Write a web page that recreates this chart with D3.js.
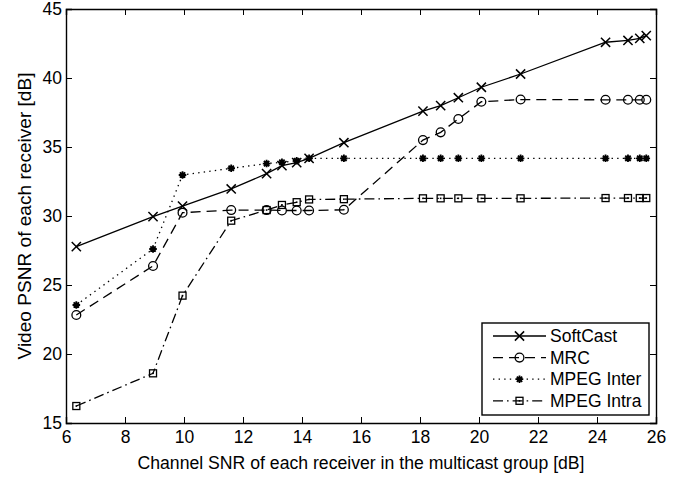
<!DOCTYPE html>
<html>
<head>
<meta charset="utf-8">
<script src="https://cdn.jsdelivr.net/npm/d3@7"></script>
<style>
  body { margin: 0; background: #fff; }
  svg { display: block; font-family: "Liberation Sans", Arial, sans-serif; }
</style>
</head>
<body>
<div id="chart"></div>
<script>
// receiver channel SNR (dB) -- same receivers for every scheme
var snr = [6.35, 8.95, 9.95, 11.6, 12.8, 13.32, 13.82, 14.24, 15.42, 18.1, 18.7, 19.3, 20.08, 21.41, 24.29, 25.05, 25.45, 25.67];

var softcast  = [27.78, 29.95, 30.72, 31.96, 33.07, 33.65, 33.87, 34.18, 35.31, 37.6, 38.0, 38.57, 39.33, 40.29, 42.59, 42.72, 42.87, 43.07];
var mrc       = [22.83, 26.38, 30.24, 30.43, 30.43, 30.4, 30.4, 30.4, 30.45, 35.5, 36.06, 37.03, 38.28, 38.44, 38.42, 38.42, 38.42, 38.42];
var mpegInter = [23.55, 27.61, 32.97, 33.46, 33.8, 33.89, 34.0, 34.18, 34.18, 34.18, 34.18, 34.18, 34.18, 34.18, 34.18, 34.18, 34.18, 34.18];
var mpegIntra = [16.23, 18.6, 24.23, 29.66, 30.43, 30.8, 31.0, 31.2, 31.22, 31.28, 31.28, 31.28, 31.28, 31.28, 31.3, 31.3, 31.3, 31.3];

var seriesNames = ["SoftCast", "MRC", "MPEG Inter", "MPEG Intra"];
var xTicks = [6, 8, 10, 12, 14, 16, 18, 20, 22, 24, 26];
var yTicks = [15, 20, 25, 30, 35, 40, 45];

var W = 689, H = 479;
var plotL = 66, plotR = 656, plotT = 9, plotB = 423;

var svg = d3.select('#chart').append('svg')
  .attr('width', W).attr('height', H);

var x = d3.scaleLinear().domain([6, 26]).range([plotL, plotR]);
var y = d3.scaleLinear().domain([15, 45]).range([plotB, plotT]);

// styles per series
var styles = [
  { dash: null,         marker: 'x' },
  { dash: '10,6',       marker: 'o' },
  { dash: '1.4,4.2',    marker: '*' },
  { dash: '10,4,1.6,4', marker: 's' }
];

var allSeries = [softcast, mrc, mpegInter, mpegIntra].map(function(vals, i) {
  return {
    name: seriesNames[i],
    style: styles[i],
    points: vals.map(function(v, j) { return { x: snr[j], y: v }; })
  };
});

function drawMarker(g, type, cx, cy) {
  if (type === 'x') {
    var s = 4.6;
    g.append('path')
      .attr('d', 'M' + (cx - s) + ',' + (cy - s) + 'L' + (cx + s) + ',' + (cy + s) +
                 'M' + (cx - s) + ',' + (cy + s) + 'L' + (cx + s) + ',' + (cy - s))
      .attr('stroke', '#000').attr('stroke-width', 1.5).attr('fill', 'none');
  } else if (type === 'o') {
    g.append('circle').attr('cx', cx).attr('cy', cy).attr('r', 4.4)
      .attr('stroke', '#000').attr('stroke-width', 1.3).attr('fill', 'none');
  } else if (type === '*') {
    var r = 3.8, p = '';
    for (var k = 0; k < 4; k++) {
      var a = k * Math.PI / 4;
      p += 'M' + (cx - r * Math.cos(a)) + ',' + (cy - r * Math.sin(a)) +
           'L' + (cx + r * Math.cos(a)) + ',' + (cy + r * Math.sin(a));
    }
    g.append('path').attr('d', p).attr('stroke', '#000').attr('stroke-width', 1.8).attr('fill', 'none');
    g.append('circle').attr('cx', cx).attr('cy', cy).attr('r', 2.5).attr('fill', '#000');
  } else if (type === 's') {
    var h = 3.5;
    g.append('rect').attr('x', cx - h).attr('y', cy - h).attr('width', 2 * h).attr('height', 2 * h)
      .attr('stroke', '#000').attr('stroke-width', 1.3).attr('fill', 'none');
    g.append('rect').attr('x', cx - 0.8).attr('y', cy - 0.8).attr('width', 1.6).attr('height', 1.6)
      .attr('fill', '#000');
  }
}

// axes box with inward ticks (matlab style)
var xAxisB = d3.axisBottom(x).tickValues(xTicks).tickSize(-6).tickPadding(8);
var xAxisT = d3.axisTop(x).tickValues(xTicks).tickSize(-6).tickFormat('');
var yAxisL = d3.axisLeft(y).tickValues(yTicks).tickSize(-6).tickPadding(4);
var yAxisR = d3.axisRight(y).tickValues(yTicks).tickSize(-6).tickFormat('');

function styleAxis(g) {
  g.select('.domain').attr('stroke', '#000').attr('stroke-width', 1.4);
  g.selectAll('.tick line').attr('stroke', '#000').attr('stroke-width', 1);
  g.selectAll('.tick text').attr('fill', '#000').style('font-size', '17.5px');
}

svg.append('g').attr('transform', 'translate(0,' + plotB + ')').call(xAxisB).call(styleAxis);
svg.append('g').attr('transform', 'translate(0,' + plotT + ')').call(xAxisT).call(styleAxis);
svg.append('g').attr('transform', 'translate(' + plotL + ',0)').call(yAxisL).call(styleAxis);
svg.append('g').attr('transform', 'translate(' + plotR + ',0)').call(yAxisR).call(styleAxis);

// lines + markers
var line = d3.line().x(function(d) { return x(d.x); }).y(function(d) { return y(d.y); });

allSeries.forEach(function(s) {
  var g = svg.append('g').attr('class', 'series');
  g.append('path').datum(s.points)
    .attr('d', line)
    .attr('fill', 'none').attr('stroke', '#000').attr('stroke-width', 1.3)
    .attr('stroke-dasharray', s.style.dash);
  s.points.forEach(function(p) { drawMarker(g, s.style.marker, x(p.x), y(p.y)); });
});

// axis titles
svg.append('text')
  .attr('x', (plotL + plotR) / 2).attr('y', 469)
  .attr('text-anchor', 'middle').style('font-size', '17.5px')
  .attr('textLength', 447).attr('lengthAdjust', 'spacingAndGlyphs')
  .text('Channel SNR of each receiver in the multicast group [dB]');

svg.append('text')
  .attr('transform', 'translate(31,' + ((plotT + plotB) / 2) + ') rotate(-90)')
  .attr('text-anchor', 'middle').style('font-size', '18px')
  .attr('textLength', 287).attr('lengthAdjust', 'spacingAndGlyphs')
  .text('Video PSNR of each receiver [dB]');

// legend
var lg = svg.append('g');
lg.append('rect').attr('x', 482).attr('y', 323).attr('width', 167).attr('height', 92)
  .attr('fill', '#fff').attr('stroke', '#000').attr('stroke-width', 1.4);

allSeries.forEach(function(s, i) {
  var ly = 336 + i * 21.6;
  lg.append('line').attr('x1', 493).attr('x2', 546).attr('y1', ly).attr('y2', ly)
    .attr('stroke', '#000').attr('stroke-width', 1.3).attr('stroke-dasharray', s.style.dash);
  drawMarker(lg, s.style.marker, 519.5, ly);
  lg.append('text').attr('x', 550).attr('y', ly).attr('dy', '0.35em')
    .style('font-size', '17.5px').text(s.name);
});
</script>
</body>
</html>
